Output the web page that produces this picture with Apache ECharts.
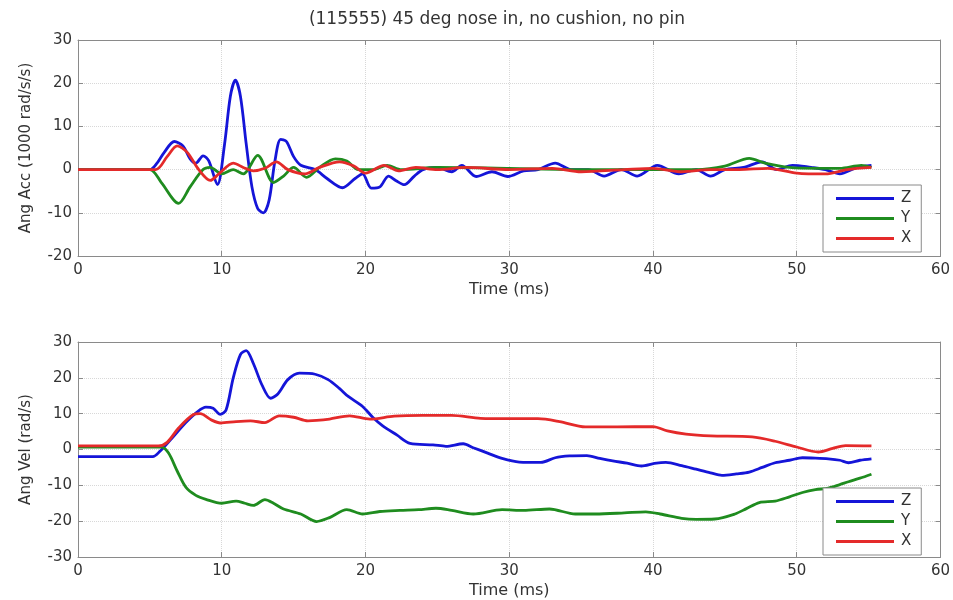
<!DOCTYPE html>
<html><head><meta charset="utf-8">
<script src="https://cdn.jsdelivr.net/npm/echarts@6/dist/echarts.min.js"></script>
<style>html,body{margin:0;padding:0;background:#fff}#c{width:953px;height:600px}</style>
</head><body><div id="c"></div>
<script>
const titleText = '(115555) 45 deg nose in, no cushion, no pin';
const seriesNames = ['Z', 'Y', 'X'];
const xName = 'Time (ms)';
const yNameTop = 'Ang Acc (1000 rad/s/s)';
const yNameBottom = 'Ang Vel (rad/s)';

// Top plot: angular acceleration (1000 rad/s/s) vs time (ms)
const accZ = [[0,0],[5,0],[5.5,1.5],[6,4],[6.7,6.5],[7.3,5.5],[7.8,2.5],[8.2,1.5],[8.7,3.2],[9.1,2],[9.7,-3.5],[10.2,6],[10.6,17],[10.95,20.7],[11.3,17],[11.7,6],[12.1,-4],[12.5,-9],[12.9,-10],[13.3,-7],[13.7,2],[14.1,7],[14.5,6.5],[15,3],[15.5,1],[16.5,0],[17.3,-2],[18.4,-4.2],[19.3,-2],[19.8,-1],[20.4,-4.3],[21,-4],[21.6,-1.5],[22.1,-2.5],[22.7,-3.5],[23.4,-1.5],[24,0],[25,0.5],[26,-0.5],[26.7,1],[27.7,-1.6],[28.8,-0.5],[29.9,-1.6],[31,-0.3],[32,0],[33.2,1.5],[34.3,0],[35.5,0],[36.6,-1.5],[37.8,0],[38.9,-1.5],[40.3,1],[41.8,-1],[43,0],[44,-1.5],[45,0],[46.3,0.5],[47.6,1.8],[48.6,0],[49.7,1],[51,0.5],[52,0],[53,-1],[54.2,0.5],[55.2,1]];
const accY = [[0,0],[5,0],[5.8,-3],[7,-7.8],[7.8,-4],[8.7,0],[9.2,0.5],[10,-1],[10.8,0],[11.5,-1],[12.5,3.3],[13.6,-3],[14.3,-1.5],[15,0.5],[15.9,-1.8],[16.8,0.5],[17.9,2.5],[18.7,2],[19.5,0],[20.5,0],[21.5,1],[22.5,0],[25,0.5],[30,0.3],[35,0],[40,0],[43,0],[45,0.8],[46.7,2.6],[47.8,1.5],[49.5,0.5],[51.5,0.3],[53,0.3],[54.5,1],[55.2,0.5]];
const accX = [[0,0],[5.4,0],[6.2,3],[6.9,5.5],[7.6,4],[8.4,0],[9.2,-2.5],[9.8,-1],[10.8,1.5],[11.5,0.5],[12.2,-0.3],[13,0.3],[13.8,1.8],[14.6,0],[15.8,-1],[16.8,0.5],[18.2,1.8],[19.2,0.8],[20,-0.8],[21.3,1],[22.3,-0.3],[23.5,0.5],[25,0],[27,0.5],[30,0],[33,0.3],[35,-0.5],[38,0],[40,0.3],[42,-0.5],[44,0],[46,0],[48,0.3],[50,-0.8],[52,-1],[53.5,0],[55.2,0.5]];

// Bottom plot: angular velocity (rad/s) vs time (ms)
const velZ = [[0,-2],[5.2,-2],[5.7,-0.5],[6.5,3],[7.5,7.5],[8.3,10.5],[8.9,11.8],[9.4,11.5],[9.9,9.8],[10.3,11],[10.8,20],[11.3,26.5],[11.7,27.6],[12.2,24],[12.8,18],[13.4,14.3],[13.9,15.5],[14.6,19.5],[15.4,21.3],[16.5,21],[17.4,19.5],[18.2,17],[18.8,14.8],[19.8,12],[20.5,9],[21.2,6.6],[22.2,4],[23.1,1.7],[24.7,1.3],[25.6,0.9],[26.8,1.6],[27.5,0.5],[28.5,-1],[29.5,-2.5],[30.7,-3.5],[32.2,-3.6],[33.2,-2.3],[34.2,-1.8],[35.4,-1.7],[36.3,-2.5],[37.2,-3.2],[38.2,-3.8],[39.2,-4.6],[40.1,-3.9],[40.9,-3.6],[42,-4.5],[43,-5.5],[44,-6.5],[44.8,-7.2],[45.8,-6.8],[46.7,-6.3],[47.6,-5],[48.5,-3.7],[49.5,-3],[50.4,-2.3],[51.3,-2.4],[52.2,-2.6],[53,-3],[53.6,-3.7],[54.4,-3],[55.2,-2.6]];
const velY = [[0,0.7],[5.8,0.7],[6.3,-1],[6.9,-6],[7.5,-10.5],[8.2,-12.8],[8.9,-13.9],[10,-15],[11,-14.4],[11.6,-15],[12.2,-15.6],[13,-14],[13.6,-15],[14.3,-16.6],[15.5,-18],[16.6,-20.1],[17.5,-19],[18.7,-16.8],[19.8,-18],[21,-17.3],[22.4,-17],[23.7,-16.8],[24.9,-16.4],[26,-17],[27.5,-18],[29.5,-16.8],[31,-17],[32.8,-16.6],[34.6,-18],[36,-18],[38,-17.7],[39.5,-17.4],[40.5,-18],[42,-19.2],[43,-19.5],[44.3,-19.4],[45.7,-18],[46.5,-16.5],[47.4,-14.8],[48.5,-14.4],[49.5,-13.2],[50.4,-12],[51.3,-11.2],[52.2,-10.8],[53,-9.8],[53.6,-9],[54.4,-8],[55.2,-6.9]];
const velX = [[0,1],[5.6,1],[6.2,2],[7,6],[8,9.7],[8.5,10],[9.3,8.2],[9.9,7.4],[11,7.8],[12,8],[13,7.5],[14,9.4],[15,9],[16,8],[16.6,8.1],[17.5,8.5],[18.9,9.4],[20.3,8.5],[22,9.3],[24,9.5],[26,9.5],[28,8.7],[30,8.6],[32,8.6],[33.5,7.8],[35.3,6.3],[37.5,6.3],[40,6.4],[41,5.2],[42.3,4.3],[44,3.8],[46.9,3.5],[48.5,2.3],[50,0.7],[51.5,-0.7],[52.5,0.3],[53.4,1.1],[55.2,1.0]];

const colors = ['#1515d8', '#1f8c1f', '#e42a2a'];
const FONT = 'DejaVu Sans';
const TXT = '#333';
const BOX = '#8a8a8a';

const chart = echarts.init(document.getElementById('c'), null, {renderer: 'canvas'});

function mainX(gi) {
  return {
    type: 'value', gridIndex: gi, min: 0, max: 60, interval: 10,
    name: xName, nameLocation: 'middle', nameGap: 26,
    nameTextStyle: {fontFamily: FONT, fontSize: 16, color: TXT},
    axisLine: {show: true, onZero: false, lineStyle: {color: BOX, width: 1}},
    axisTick: {show: true, inside: true, length: 5, lineStyle: {color: BOX}},
    axisLabel: {fontFamily: FONT, fontSize: 15, color: TXT, margin: 7},
    splitLine: {show: true, lineStyle: {type: 'dotted', color: '#d8d8d8'}}
  };
}
function topX(gi) {
  return {
    type: 'value', gridIndex: gi, position: 'top', min: 0, max: 60, interval: 10,
    axisLine: {show: true, onZero: false, lineStyle: {color: BOX, width: 1}},
    axisTick: {show: true, inside: true, length: 5, lineStyle: {color: BOX}},
    axisLabel: {show: false}, splitLine: {show: false}
  };
}
function mainY(gi, mn, mx, nm) {
  return {
    type: 'value', gridIndex: gi, min: mn, max: mx, interval: 10,
    name: nm, nameLocation: 'middle', nameGap: 44,
    nameTextStyle: {fontFamily: FONT, fontSize: 15, color: TXT},
    axisLine: {show: true, onZero: false, lineStyle: {color: BOX, width: 1}},
    axisTick: {show: true, inside: true, length: 5, lineStyle: {color: BOX}},
    axisLabel: {fontFamily: FONT, fontSize: 15, color: TXT, margin: 6},
    splitLine: {show: true, lineStyle: {type: 'dotted', color: '#d8d8d8'}}
  };
}
function rightY(gi, mn, mx) {
  return {
    type: 'value', gridIndex: gi, position: 'right', min: mn, max: mx, interval: 10,
    axisLine: {show: true, onZero: false, lineStyle: {color: BOX, width: 1}},
    axisTick: {show: true, inside: true, length: 5, lineStyle: {color: BOX}},
    axisLabel: {show: false}, splitLine: {show: false}
  };
}
function line(name, data, xi, yi, color) {
  return {
    name: name, type: 'line', data: data, xAxisIndex: xi, yAxisIndex: yi,
    smooth: 0.3, symbol: 'none', showSymbol: false,
    lineStyle: {color: color, width: 2.8}, itemStyle: {color: color},
    animation: false, z: 3
  };
}
function legendAt(top) {
  return {
    data: seriesNames, orient: 'vertical', left: 823, top: top,
    icon: 'rect', itemWidth: 58, itemHeight: 3, itemGap: 5,
    padding: [6, 10, 6, 13],
    backgroundColor: '#fff', borderColor: BOX, borderWidth: 1,
    textStyle: {fontFamily: FONT, fontSize: 15, color: TXT, padding: [0, 0, 0, 2]},
    selectedMode: false
  };
}

chart.setOption({
  backgroundColor: '#fff',
  animation: false,
  title: {
    text: titleText, left: 492, top: 6, textAlign: 'center',
    textStyle: {fontFamily: FONT, fontSize: 17, fontWeight: 'normal', color: TXT}
  },
  grid: [
    {left: 78, right: 11, top: 40, height: 216},
    {left: 78, right: 11, top: 342, height: 216}
  ],
  xAxis: [mainX(0), mainX(1), topX(0), topX(1)],
  yAxis: [mainY(0, -20, 30, yNameTop), mainY(1, -30, 30, yNameBottom), rightY(0, -20, 30), rightY(1, -30, 30)],
  legend: [legendAt(185), legendAt(488)],
  series: [
    line('Z', accZ, 0, 0, colors[0]),
    line('Y', accY, 0, 0, colors[1]),
    line('X', accX, 0, 0, colors[2]),
    line('Z', velZ, 1, 1, colors[0]),
    line('Y', velY, 1, 1, colors[1]),
    line('X', velX, 1, 1, colors[2])
  ]
});
</script></body></html>
